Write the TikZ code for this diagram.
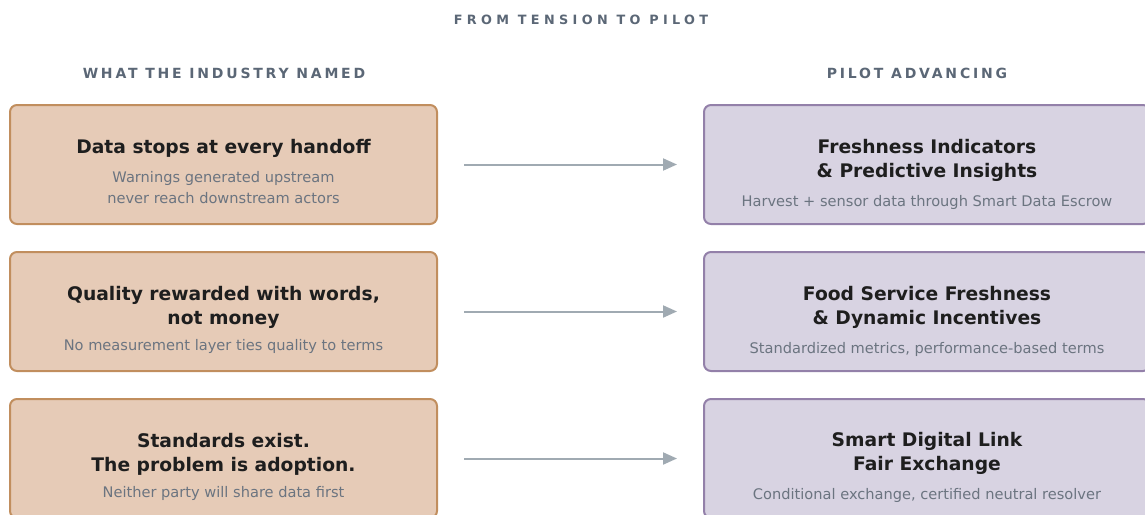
\documentclass[tikz,border=0pt]{standalone}
\usepackage{fontspec}
\setmainfont{DejaVu Sans}
\newfontfamily\toptrack[LetterSpace=34]{DejaVu Sans}
\newfontfamily\headtrack[LetterSpace=20]{DejaVu Sans}
\usetikzlibrary{arrows.meta, positioning}
\definecolor{tanfill}{HTML}{E6CBB7}
\definecolor{tanline}{HTML}{C18E5E}
\definecolor{lilacfill}{HTML}{D8D3E2}
\definecolor{lilacline}{HTML}{9380A9}
\definecolor{inkdark}{HTML}{1E1E1E}
\definecolor{subgray}{HTML}{6B7480}
\definecolor{headslate}{HTML}{5B6776}
\definecolor{arrowgray}{HTML}{A0AAB2}
\newcommand{\boxtitle}{\bfseries\fontsize{18.7}{24}\selectfont\color{inkdark}}
\newcommand{\boxsub}{\fontsize{14.6}{21}\selectfont\color{subgray}}

\begin{document}
\begin{tikzpicture}[
    x=1pt, y=-1pt,
    maintitle/.style={font=\toptrack\bfseries\fontsize{12.8}{16}\selectfont, text=headslate, inner sep=0pt},
    header/.style={font=\headtrack\bfseries\fontsize{14}{16}\selectfont, text=headslate, inner sep=0pt},
    issuebox/.style={rectangle, draw=tanline, line width=2pt, fill=tanfill,
                    minimum width=427pt, minimum height=119pt, rounded corners=7pt},
    pilotbox/.style={rectangle, draw=lilacline, line width=2pt, fill=lilacfill,
                  minimum width=446pt, minimum height=119pt, rounded corners=7pt},
    boxtext/.style={align=center, inner sep=0pt, font=\fontsize{18.7}{24}\selectfont},
    flow/.style={draw=arrowgray, line width=2pt, -{Triangle[length=14pt, width=12pt]}}
]
    \useasboundingbox (0,0) rectangle (1145,514);

    % Headers
    \node[maintitle] (title) at (581,19.5) {FROM TENSION TO PILOT};
    \node[header] (lefthead) at (224,73) {WHAT THE INDUSTRY NAMED};
    \node[header] (righthead) at (917,73) {PILOT ADVANCING};

    % Left column
    \node[issuebox] (handoff) at (223.5,164.5) {};
    \node[issuebox] (words) at (223.5,311.5) {};
    \node[issuebox] (adoption) at (223.5,458.5) {};

    % Right column
    \node[pilotbox] (fresh) at (927,164.5) {};
    \node[pilotbox] (service) at (927,311.5) {};
    \node[pilotbox] (link) at (927,458.5) {};

    % Texts
    \node[boxtext] (handofftxt) at ([yshift=-7pt]handoff.center)
        {{\boxtitle Data stops at every handoff}\\[5pt]
         {\boxsub Warnings generated upstream}\\[-3pt]
         {\boxsub never reach downstream actors}};
    \node[boxtext] (wordstxt) at ([yshift=-8pt]words.center)
        {{\boxtitle Quality rewarded with words,}\\
         {\boxtitle not money}\\[2pt]
         {\boxsub No measurement layer ties quality to terms}};
    \node[boxtext] (adoptiontxt) at ([yshift=-8pt]adoption.center)
        {{\boxtitle Standards exist.}\\
         {\boxtitle The problem is adoption.}\\[2pt]
         {\boxsub Neither party will share data first}};
    \node[boxtext] (freshtxt) at ([yshift=-10pt]fresh.center)
        {{\boxtitle Freshness Indicators}\\
         {\boxtitle \& Predictive Insights}\\[5pt]
         {\boxsub Harvest + sensor data through Smart Data Escrow}};
    \node[boxtext] (servicetxt) at ([yshift=-10pt]service.center)
        {{\boxtitle Food Service Freshness}\\
         {\boxtitle \& Dynamic Incentives}\\[5pt]
         {\boxsub Standardized metrics, performance-based terms}};
    \node[boxtext] (linktxt) at ([yshift=-9pt]link.center)
        {{\boxtitle Smart Digital Link}\\
         {\boxtitle Fair Exchange}\\[5pt]
         {\boxsub Conditional exchange, certified neutral resolver}};

    % Arrows
    \draw[flow] ([xshift=26pt]handoff.east) -- ([xshift=-26pt]fresh.west);
    \draw[flow] ([xshift=26pt]words.east) -- ([xshift=-26pt]service.west);
    \draw[flow] ([xshift=26pt]adoption.east) -- ([xshift=-26pt]link.west);
\end{tikzpicture}
\end{document}
